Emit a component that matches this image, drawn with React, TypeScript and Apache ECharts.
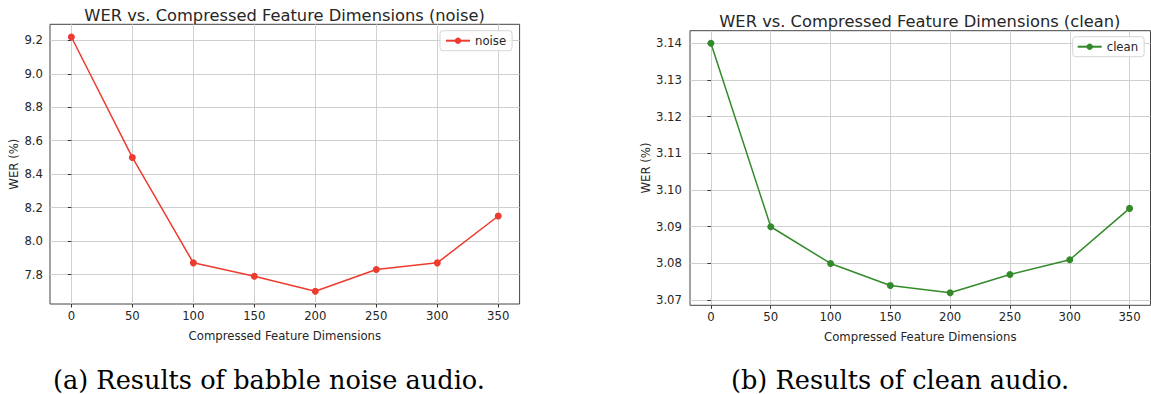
import React, { useEffect, useRef } from "react";
import * as echarts from "echarts";

const dims = [0, 50, 100, 150, 200, 250, 300, 350];
const noiseWER = [9.22, 8.5, 7.87, 7.79, 7.7, 7.83, 7.87, 8.15];
const cleanWER = [3.14, 3.09, 3.08, 3.074, 3.072, 3.077, 3.081, 3.095];
const noiseTicks = [7.8, 8.0, 8.2, 8.4, 8.6, 8.8, 9.0, 9.2];
const cleanTicks = [3.07, 3.08, 3.09, 3.1, 3.11, 3.12, 3.13, 3.14];
const titles = [
  "WER vs. Compressed Feature Dimensions (noise)",
  "WER vs. Compressed Feature Dimensions (clean)",
];
const captions = ["(a) Results of babble noise audio.", "(b) Results of clean audio."];
const seriesNames = ["noise", "clean"];

const FONT = "DejaVu Sans";
const TXT = "#262626";
const RED = "#ee3b30";
const GREEN = "#338a2a";

function xAxisCfg(gridIndex: number) {
  return {
    type: "value",
    gridIndex,
    min: -17.5,
    max: 367.5,
    name: "Compressed Feature Dimensions",
    nameLocation: "middle",
    nameGap: 26,
    nameTextStyle: { fontFamily: FONT, fontSize: 11.7, color: TXT },
    axisLine: { show: false },
    axisTick: { show: true, length: 3.5, lineStyle: { color: "#333", width: 1 }, customValues: dims },
    axisLabel: {
      fontFamily: FONT,
      fontSize: 11.7,
      color: TXT,
      margin: 6,
      customValues: dims,
      formatter: (v: number) => String(v),
    },
    splitLine: { show: true, lineStyle: { color: "#cfcfcf", width: 1 } },
  };
}

function yAxisCfg(gridIndex: number, min: number, max: number, ticks: number[], digits: number, gap: number, margin: number) {
  return {
    type: "value",
    gridIndex,
    min,
    max,
    name: "WER (%)",
    nameLocation: "middle",
    nameRotate: 90,
    nameGap: gap,
    nameTextStyle: { fontFamily: FONT, fontSize: 11.7, color: TXT },
    axisLine: { show: false },
    axisTick: { show: true, length: 3.5, lineStyle: { color: "#333", width: 1 }, customValues: ticks },
    axisLabel: {
      fontFamily: FONT,
      fontSize: 11.7,
      color: TXT,
      margin: margin,
      customValues: ticks,
      formatter: (v: number) => v.toFixed(digits),
    },
    splitLine: { show: true, lineStyle: { color: "#cfcfcf", width: 1 } },
  };
}

export default function App() {
  const ref = useRef<HTMLDivElement>(null);
  useEffect(() => {
    if (!ref.current) return;
    const chart = echarts.init(ref.current, undefined, { renderer: "svg" });
    chart.setOption({
      animation: false,
      backgroundColor: "#ffffff",
      grid: [
        { left: 50, top: 24.3, width: 469.6, height: 279.7, show: true, borderColor: "#444", borderWidth: 1, backgroundColor: "transparent" },
        { left: 690, top: 30.7, width: 460.5, height: 274.6, show: true, borderColor: "#444", borderWidth: 1, backgroundColor: "transparent" },
      ],
      xAxis: [xAxisCfg(0), xAxisCfg(1)],
      yAxis: [
        yAxisCfg(0, 7.624, 9.296, noiseTicks, 1, 30, 7),
        yAxisCfg(1, 3.0686, 3.1434, cleanTicks, 2, 35, 8),
      ],
      legend: [
        {
          data: [seriesNames[0]],
          left: 440,
          top: 30.7,
          padding: [4, 6, 4, 5],
          itemWidth: 24,
          itemHeight: 8,
          backgroundColor: "rgba(255,255,255,0.85)",
          borderColor: "#d5d5d5",
          borderWidth: 1,
          borderRadius: 3,
          textStyle: { fontFamily: FONT, fontSize: 11.7, color: TXT },
        },
        {
          data: [seriesNames[1]],
          left: 1072.7,
          top: 36.7,
          padding: [4, 6, 4, 4],
          itemWidth: 24,
          itemHeight: 8,
          backgroundColor: "rgba(255,255,255,0.85)",
          borderColor: "#d5d5d5",
          borderWidth: 1,
          borderRadius: 3,
          textStyle: { fontFamily: FONT, fontSize: 11.7, color: TXT },
        },
      ],
      series: [
        {
          name: seriesNames[0],
          type: "line",
          xAxisIndex: 0,
          yAxisIndex: 0,
          data: dims.map((d, i) => [d, noiseWER[i]]),
          symbol: "circle",
          symbolSize: 7,
          lineStyle: { color: RED, width: 1.5 },
          itemStyle: { color: RED },
        },
        {
          name: seriesNames[1],
          type: "line",
          xAxisIndex: 1,
          yAxisIndex: 1,
          data: dims.map((d, i) => [d, cleanWER[i]]),
          symbol: "circle",
          symbolSize: 7,
          lineStyle: { color: GREEN, width: 1.5 },
          itemStyle: { color: GREEN },
        },
      ],
      graphic: [
        {
          type: "text",
          x: 284.6,
          y: 15,
          style: { text: titles[0], fontFamily: FONT, fontSize: 16.3, fill: TXT, align: "center", verticalAlign: "middle" },
        },
        {
          type: "text",
          x: 919.8,
          y: 21,
          style: { text: titles[1], fontFamily: FONT, fontSize: 16.3, fill: TXT, align: "center", verticalAlign: "middle" },
        },
        {
          type: "text",
          x: 53,
          y: 380,
          style: { text: captions[0], fontFamily: "DejaVu Serif", fontSize: 25.6, fill: "#000", align: "left", verticalAlign: "middle" },
        },
        {
          type: "text",
          x: 731,
          y: 380,
          style: { text: captions[1], fontFamily: "DejaVu Serif", fontSize: 25.6, fill: "#000", align: "left", verticalAlign: "middle" },
        },
      ],
    });
    return () => chart.dispose();
  }, []);
  return (
    <div
      ref={ref}
      style={{ position: "absolute", left: 0, top: 0, width: 1151, height: 394 }}
    />
  );
}
